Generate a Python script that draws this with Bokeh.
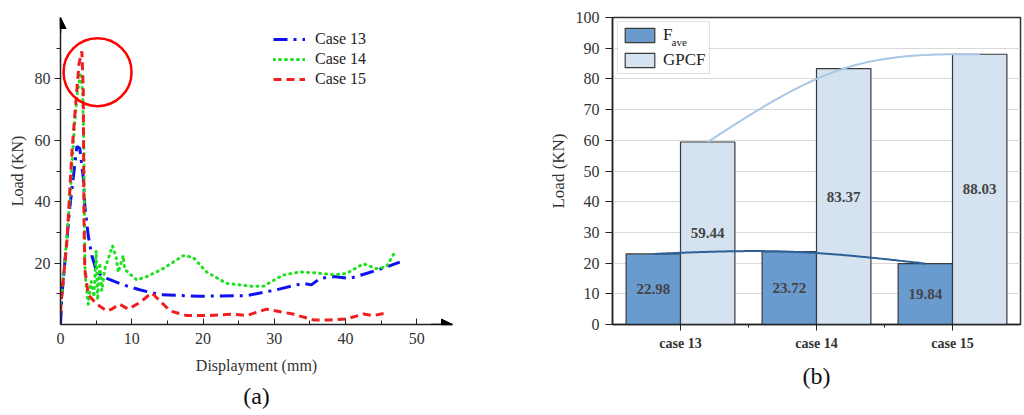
import numpy as np
from bokeh.plotting import figure
from bokeh.layouts import row
from bokeh.models import (Range1d, FixedTicker, Arrow, NormalHead, Legend,
                          LegendItem, Title)
from bokeh.embed import file_html
from bokeh.resources import INLINE
from bokeh.core.properties import value

SERIF = "'Liberation Serif', 'Times New Roman', serif"

# ---------------- (a) load-displacement curves ----------------
case13_disp = [0, 0.2, 1.3, 2.3, 2.7, 3.2, 3.4, 3.9, 4.4, 5.1, 6.5, 8.8, 11.1,
               14.0, 19.6, 26.1, 30.3, 34.0, 35.2, 36.4, 38.3, 40.6, 42.9,
               45.7, 47.6]
case13_load = [0, 9.7, 38, 58, 57.4, 47.8, 39, 28.8, 22.4, 17, 15, 12.9, 11.3,
               9.7, 9.2, 9.4, 11.3, 13.4, 12.9, 15, 15.6, 15, 16.6, 18.7, 20.3]

case14_disp = [0, 0.3, 1.3, 2.0, 2.4, 2.7, 2.85, 3.0, 3.1, 3.3, 3.35, 3.45,
               3.9, 4.3, 4.7, 5.0, 5.2, 5.5, 5.8, 6.2, 7.3, 7.8, 8.1, 8.8,
               9.0, 10.7, 12.1, 14.4, 17.2, 18.6, 20.5, 23.3, 27.0, 28.5,
               31.2, 33.6, 35.8, 38.3, 40.1, 42.5, 43.4, 44.3, 45.7, 46.9]
case14_load = [7, 12, 40, 66, 76, 80, 82, 78, 76, 55, 38, 16,
               6.6, 14, 9, 24, 8, 20, 11, 18, 25.6, 22, 17, 22.4,
               18, 14.5, 15.6, 18.2, 22.4, 21.9, 17.1, 13.4, 12.4, 12.5,
               16.1, 17.1, 16.8, 16.2, 16.6, 19.8, 19.0, 18.2, 18.7, 23.5]

case15_disp = [0, 0.2, 0.9, 1.6, 2.0, 2.6, 3.0, 3.2, 3.25, 3.3, 3.4, 3.9, 5.1,
               6.5, 7.1, 8.3, 9.5, 11.1, 12.8, 13.5, 15.4, 17.7, 20.5, 24.2,
               26.1, 28.9, 30.3, 32.6, 35.5, 37.8, 40.1, 42.5, 43.9, 46.0]
case15_load = [4, 10, 27, 56, 68, 85, 89, 76, 50, 34, 18.2, 9.7, 6.6,
               4.4, 4.9, 6.6, 5, 7.1, 10.3, 8.7, 4.4, 2.9, 2.9, 3.4,
               2.9, 5, 4.4, 3.4, 1.5, 1.5, 1.8, 3.4, 2.9, 3.9]

x_ticks_a = [0, 10, 20, 30, 40, 50]
y_ticks_a = [20, 40, 60, 80]

# highlighted peak region (centre in data units, diameter in px)
HIGHLIGHT_X, HIGHLIGHT_Y = 5.2, 82.2

p1 = figure(width=500, height=415, x_range=Range1d(0, 55), y_range=Range1d(0, 100),
            min_border_left=60, min_border_right=48, min_border_top=9,
            min_border_bottom=91, toolbar_location=None, output_backend="svg",
            outline_line_color=None)
p1.grid.visible = False

r13 = p1.line(case13_disp, case13_load, line_color="#1010f0", line_width=3,
              line_dash="14 6 3 6")
r14 = p1.line(case14_disp, case14_load, line_color="#20e020", line_width=3,
              line_dash="1 5", line_cap="round")
r15 = p1.line(case15_disp, case15_load, line_color="#f01e1e", line_width=3,
              line_dash="8 5")

p1.scatter([HIGHLIGHT_X], [HIGHLIGHT_Y], marker="circle", size=68,
           fill_color=None, line_color="#ff0000", line_width=2.5)

leg1 = Legend(items=[LegendItem(label="Case 13", renderers=[r13]),
                     LegendItem(label="Case 14", renderers=[r14]),
                     LegendItem(label="Case 15", renderers=[r15])],
              location=(213, 235), glyph_width=32, glyph_height=20,
              label_height=20, spacing=0, padding=0, margin=0,
              border_line_color=None, background_fill_alpha=0,
              label_text_font=SERIF, label_text_font_size="16px",
              label_standoff=10, label_text_color="#222222")
p1.add_layout(leg1)

head = dict(size=11, fill_color="black", line_color="black")
p1.add_layout(Arrow(end=NormalHead(**head), x_start=52, y_start=0, x_end=55,
                    y_end=0, line_color="black", line_width=1.5))
p1.add_layout(Arrow(end=NormalHead(**head), x_start=0, y_start=95, x_end=0,
                    y_end=100, line_color="black", line_width=1.5))

xa = p1.xaxis[0]
xa.ticker = FixedTicker(ticks=x_ticks_a, minor_ticks=[5, 15, 25, 35, 45])
xa.major_tick_in, xa.major_tick_out = 6, 0
xa.minor_tick_in, xa.minor_tick_out = 4, 0
xa.axis_label = "Displayment (mm)"
ya = p1.yaxis[0]
ya.ticker = FixedTicker(ticks=y_ticks_a, minor_ticks=[10, 30, 50, 70, 90])
ya.major_tick_in, ya.major_tick_out = 0, 6
ya.minor_tick_in, ya.minor_tick_out = 0, 4
ya.axis_label = "Load (KN)"
for ax in (xa, ya):
    ax.axis_line_color = "#222222"
    ax.axis_line_width = 1.5
    ax.major_tick_line_color = "#222222"
    ax.minor_tick_line_color = "#222222"
    ax.major_label_text_font = SERIF
    ax.major_label_text_font_size = "16px"
    ax.major_label_text_color = "#333333"
    ax.axis_label_text_font = SERIF
    ax.axis_label_text_font_size = "16px"
    ax.axis_label_text_font_style = "normal"
    ax.axis_label_text_color = "#333333"
xa.major_label_standoff = 8
xa.axis_label_standoff = 10
ya.major_label_standoff = 4
ya.axis_label_standoff = 6

p1.add_layout(Title(text="(a)", align="center", text_font=SERIF,
                    text_font_size="24px", text_font_style="normal",
                    text_color="#111111", standoff=8), "below")

# ---------------- (b) average and peak crushing force ----------------
cases = ["case 13", "case 14", "case 15"]
fave = [22.98, 23.72, 19.84]
gpcf = [59.44, 83.37, 88.03]
y_ticks_b = list(range(0, 101, 10))


def natural_spline(xs, ys, n=80):
    xs = np.asarray(xs, float)
    ys = np.asarray(ys, float)
    k = len(xs)
    h = np.diff(xs)
    A = np.zeros((k, k))
    b = np.zeros(k)
    A[0, 0] = A[-1, -1] = 1.0
    for i in range(1, k - 1):
        A[i, i - 1] = h[i - 1]
        A[i, i] = 2 * (h[i - 1] + h[i])
        A[i, i + 1] = h[i]
        b[i] = 6 * ((ys[i + 1] - ys[i]) / h[i] - (ys[i] - ys[i - 1]) / h[i - 1])
    M = np.linalg.solve(A, b)
    out_x, out_y = [], []
    for i in range(k - 1):
        t = np.linspace(0, 1, n)
        a, bb = 1 - t, t
        yy = (a * ys[i] + bb * ys[i + 1]
              + ((a ** 3 - a) * M[i] + (bb ** 3 - bb) * M[i + 1]) * h[i] ** 2 / 6)
        out_x.extend(xs[i] + t * h[i])
        out_y.extend(yy)
    return out_x, out_y


idx = np.arange(len(cases))
fave_x = idx - 0.2
gpcf_x = idx + 0.2

p2 = figure(width=524, height=415, x_range=Range1d(-0.5, 2.5), y_range=Range1d(0, 100),
            min_border_left=112, min_border_right=4, min_border_top=17,
            min_border_bottom=69, toolbar_location=None, output_backend="svg",
            outline_line_color="#333333", outline_line_width=1.5)
p2.xgrid.visible = False
p2.ygrid.grid_line_color = "#d9d9d9"
p2.ygrid.grid_line_width = 1

rf = p2.vbar(x=fave_x, top=fave, width=0.4, fill_color="#6a9bcf",
             line_color="#3a3a3a", line_width=1.2)
rg = p2.vbar(x=gpcf_x, top=gpcf, width=0.4, fill_color="#d5e2f0",
             line_color="#3a3a3a", line_width=1.2)

sx, sy = natural_spline(gpcf_x, gpcf)
p2.line(sx, sy, line_color="#a9c7e6", line_width=2)
sx, sy = natural_spline(fave_x, fave)
p2.line(sx, sy, line_color="#2d5f98", line_width=2)

lbl_style = dict(text_align="center", text_baseline="middle",
                 text_font=value(SERIF), text_font_style="bold",
                 text_font_size="15px", text_color="#444444")
p2.text(x=fave_x, y=[v / 2 for v in fave], text=[f"{v:.2f}" for v in fave], **lbl_style)
p2.text(x=gpcf_x, y=[v / 2 for v in gpcf], text=[f"{v:.2f}" for v in gpcf], **lbl_style)

# white backing for the legend box (keeps grid lines out of it) and the
# subscript of the "F" entry
p2.quad(left=[-0.462], right=[0.205], bottom=[83.6], top=[98.6],
        fill_color="white", line_color=None)
p2.text(x=[-0.066], y=[92.0], text=["ave"], text_font=value(SERIF),
        text_font_size="11px", text_color="#222222", text_baseline="alphabetic")

leg2 = Legend(items=[LegendItem(label="F", renderers=[rf]),
                     LegendItem(label="GPCF", renderers=[rg])],
              location=(5, 250), glyph_width=37, glyph_height=18,
              label_height=18, spacing=5, padding=3, margin=0,
              border_line_color="#c4c4c4", border_line_width=1,
              background_fill_alpha=0,
              label_text_font=SERIF, label_text_font_size="17px",
              label_standoff=5, label_text_color="#222222")
p2.add_layout(leg2)

xb = p2.xaxis[0]
xb.ticker = FixedTicker(ticks=list(idx), minor_ticks=[0.5, 1.5])
xb.major_label_overrides = {int(i): c for i, c in zip(idx, cases)}
xb.major_tick_in, xb.major_tick_out = 0, 6
xb.minor_tick_in, xb.minor_tick_out = 0, 3
xb.major_label_text_font_style = "bold"
xb.major_label_text_font_size = "14px"
xb.major_label_standoff = 5
yb = p2.yaxis[0]
yb.ticker = FixedTicker(ticks=y_ticks_b)
yb.major_tick_in, yb.major_tick_out = 0, 7
yb.minor_tick_in, yb.minor_tick_out = 0, 0
yb.major_label_text_font_size = "16px"
yb.major_label_standoff = 6
yb.axis_label = "Load (KN)"
yb.axis_label_standoff = 5
for ax in (xb, yb):
    ax.axis_line_color = "#222222"
    ax.axis_line_width = 1.5
    ax.major_tick_line_color = "#222222"
    ax.minor_tick_line_color = "#222222"
    ax.major_label_text_font = SERIF
    ax.major_label_text_color = "#333333"
    ax.axis_label_text_font = SERIF
    ax.axis_label_text_font_size = "17px"
    ax.axis_label_text_font_style = "normal"
    ax.axis_label_text_color = "#333333"

p2.add_layout(Title(text="(b)", align="center", offset=9, text_font=SERIF,
                    text_font_size="24px", text_font_style="normal",
                    text_color="#111111", standoff=14), "below")

layout = row(p1, p2)
open("out.html", "w").write(file_html(layout, INLINE))
